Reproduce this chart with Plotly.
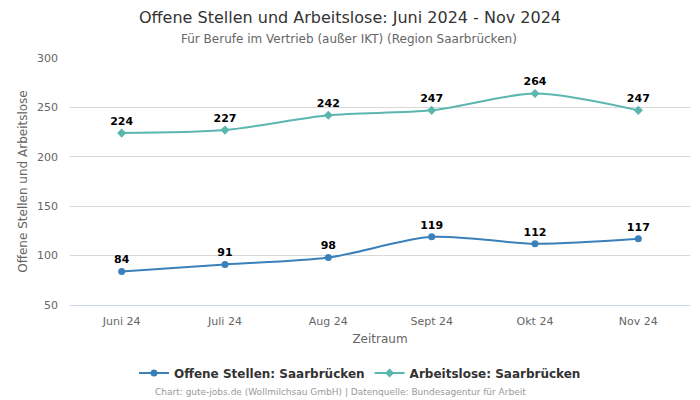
import plotly.graph_objects as go

categories = ["Juni 24", "Juli 24", "Aug 24", "Sept 24", "Okt 24", "Nov 24"]
offene = [84, 91, 98, 119, 112, 117]
arbeitslose = [224, 227, 242, 247, 264, 247]
y_ticks = [50, 100, 150, 200, 250, 300]

FONT = "DejaVu Sans, sans-serif"
LEFT, RIGHT, TOP, BOTTOM = 70, 10, 58, 95
PLOT_H = 400 - TOP - BOTTOM
PLOT_W = 700 - LEFT - RIGHT


def py(pixel_y):
    return (400 - BOTTOM - pixel_y) / PLOT_H


def px(pixel_x):
    return (pixel_x - LEFT) / PLOT_W


fig = go.Figure()
fig.add_trace(go.Scatter(
    x=categories, y=offene, name="Offene Stellen: Saarbrücken",
    mode="lines+markers+text", line=dict(color="#3a80ba", width=2, shape="spline", smoothing=0.8),
    marker=dict(symbol="circle", size=7, color="#3a80ba"),
    text=[str(v) for v in offene], textposition="top center",
    textfont=dict(family=FONT, size=11, color="#000000", weight="bold"),
))
fig.add_trace(go.Scatter(
    x=categories, y=arbeitslose, name="Arbeitslose: Saarbrücken",
    mode="lines+markers+text", line=dict(color="#5ab6ae", width=2, shape="spline", smoothing=0.8),
    marker=dict(symbol="diamond", size=7, color="#5ab6ae"),
    text=[str(v) for v in arbeitslose], textposition="top center",
    textfont=dict(family=FONT, size=11, color="#000000", weight="bold"),
))
fig.update_layout(
    width=700, height=400,
    margin=dict(l=LEFT, r=RIGHT, t=TOP, b=BOTTOM, autoexpand=False),
    paper_bgcolor="white", plot_bgcolor="white",
    font=dict(family=FONT, color="#666666", size=11),
    xaxis=dict(
        range=[-0.5, 5.5], showgrid=False, showline=True, linecolor="#ccd6eb",
        ticks="", tickfont=dict(size=11, color="#666666"), automargin=False,
        ticklabelstandoff=6,
        title=dict(text="Zeitraum", font=dict(size=12, color="#666666"), standoff=7),
    ),
    yaxis=dict(
        range=[50, 300], tickvals=y_ticks, gridcolor="#d8d8d8", zeroline=False,
        tickfont=dict(size=11, color="#666666"), automargin=False,
        ticklabelstandoff=11,
        title=dict(text="Offene Stellen und Arbeitslose", font=dict(size=12, color="#666666"), standoff=6),
    ),
    legend=dict(orientation="h", x=px(360), xanchor="center", y=py(373), yanchor="middle",
                font=dict(family=FONT, size=12, color="#333333", weight="bold")),
    showlegend=True,
)
fig.add_annotation(
    text="Offene Stellen und Arbeitslose: Juni 2024 - Nov 2024",
    xref="paper", yref="paper", x=px(350), y=py(17), xanchor="center", yanchor="middle",
    showarrow=False, font=dict(family=FONT, size=16, color="#333333"),
)
fig.add_annotation(
    text="Für Berufe im Vertrieb (außer IKT) (Region Saarbrücken)",
    xref="paper", yref="paper", x=px(349), y=py(39), xanchor="center", yanchor="middle",
    showarrow=False, font=dict(family=FONT, size=12, color="#666666"),
)
fig.add_annotation(
    text="Chart: gute-jobs.de (Wollmilchsau GmbH) | Datenquelle: Bundesagentur für Arbeit",
    xref="paper", yref="paper", x=px(340), y=py(392), xanchor="center", yanchor="middle",
    showarrow=False, font=dict(family=FONT, size=9, color="#999999"),
)
fig.write_html(
    "out.html",
    config={"displayModeBar": False, "responsive": False},
    post_script="document.body.style.margin='0';document.body.style.overflow='hidden';",
)
